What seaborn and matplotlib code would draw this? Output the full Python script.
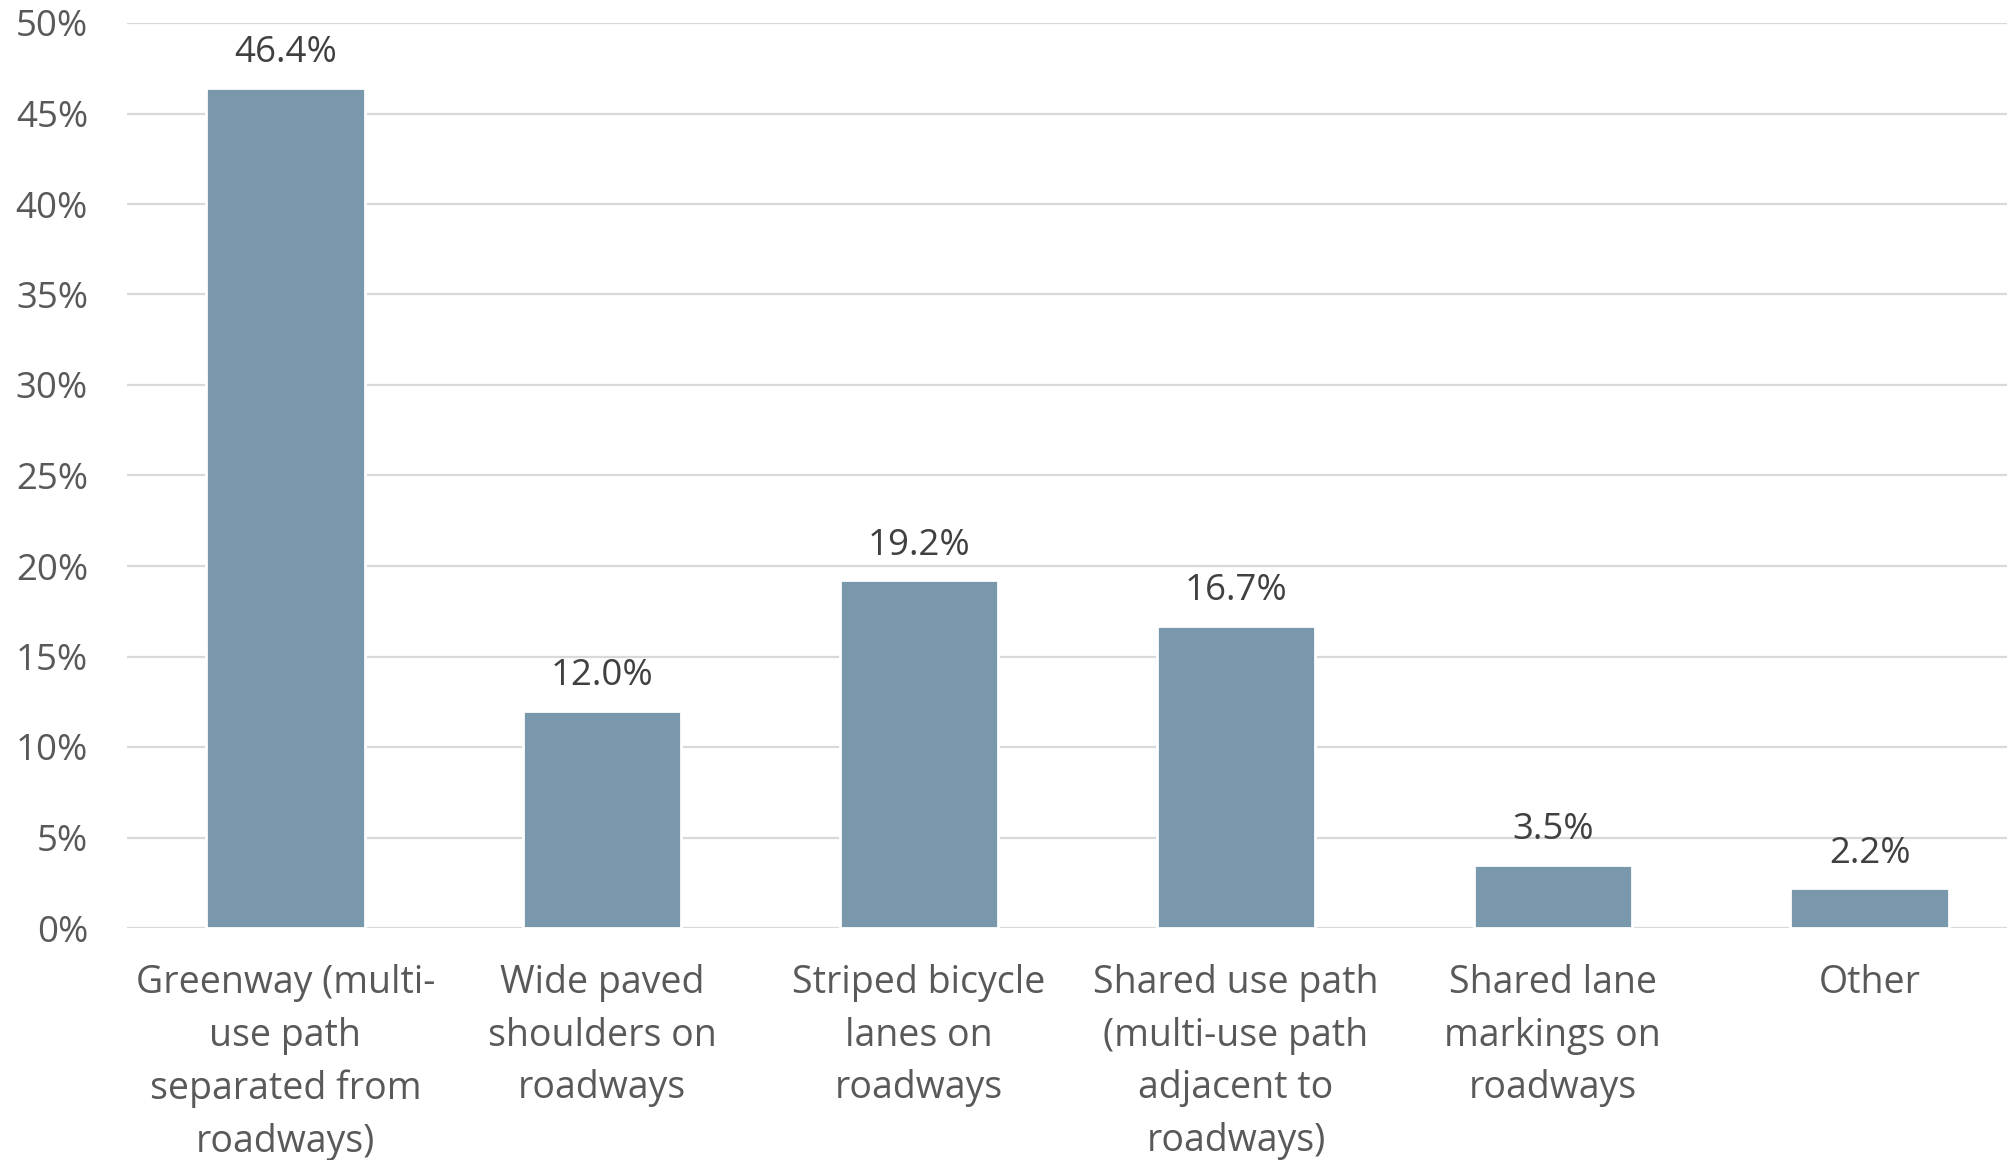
"""Tipo de infraestructura ciclista preferida (porcentaje de respuestas)."""

import pandas as pd
import seaborn as sns
from matplotlib import pyplot as plt
from matplotlib.ticker import FuncFormatter, MultipleLocator

categorias = [
	"Greenway (multi-\nuse path\nseparated from\nroadways)",
	"Wide paved\nshoulders on\nroadways",
	"Striped bicycle\nlanes on\nroadways",
	"Shared use path\n(multi-use path\nadjacent to\nroadways)",
	"Shared lane\nmarkings on\nroadways",
	"Other",
]
porcentajes = [46.4, 12.0, 19.2, 16.7, 3.5, 2.2]
etiquetas = ["46.4%", "12.0%", "19.2%", "16.7%", "3.5%", "2.2%"]

COLOR_BARRA = "#7a98ab"
COLOR_GRID = "#d9d9d9"


def graficar() -> None:
	df = pd.DataFrame({"Categoria": categorias, "Valor": [v / 100 for v in porcentajes]})

	sns.set_style("white")
	plt.rcParams["font.family"] = ["Open Sans", "DejaVu Sans"]

	fig = plt.figure(figsize=(10.04, 5.8), dpi=200)
	# el área de trazado se sale un poco por la derecha, como en el original
	ax = fig.add_axes([127 / 2008, 1 - 928 / 1160, 1901 / 2008, 905 / 1160])

	sns.barplot(data=df, x="Categoria", y="Valor", color=COLOR_BARRA, width=0.5,
				saturation=1, ax=ax, zorder=3)

	ax.set_ylim(0, 0.5)
	ax.set_xlim(-0.5, len(categorias) - 0.5)
	ax.yaxis.set_major_locator(MultipleLocator(0.05))
	ax.yaxis.set_major_formatter(FuncFormatter(lambda y, _: f"{y * 100:.0f}%"))
	ax.grid(axis="y", color=COLOR_GRID, linewidth=0.8, zorder=0)
	ax.set_axisbelow(True)
	for lado in ["top", "right", "left", "bottom"]:
		ax.spines[lado].set_visible(False)

	ax.set_xlabel("")
	ax.set_ylabel("")
	ax.tick_params(axis="y", length=0, pad=14, labelsize=13.2, labelcolor="#595959")
	ax.tick_params(axis="x", length=0, pad=13, labelsize=13.5, labelcolor="#595959")
	for t in ax.get_xticklabels():
		t.set_linespacing(1.5)
		t.set_verticalalignment("top")

	for barra, texto in zip(ax.patches, etiquetas):
		ax.annotate(texto, (barra.get_x() + barra.get_width() / 2, barra.get_height()),
					xytext=(0, 6), textcoords="offset points", ha="center", va="bottom",
					fontsize=13.2, color="#404040")

	fig.savefig("out.png", dpi=200)


if __name__ == "__main__":
	graficar()
